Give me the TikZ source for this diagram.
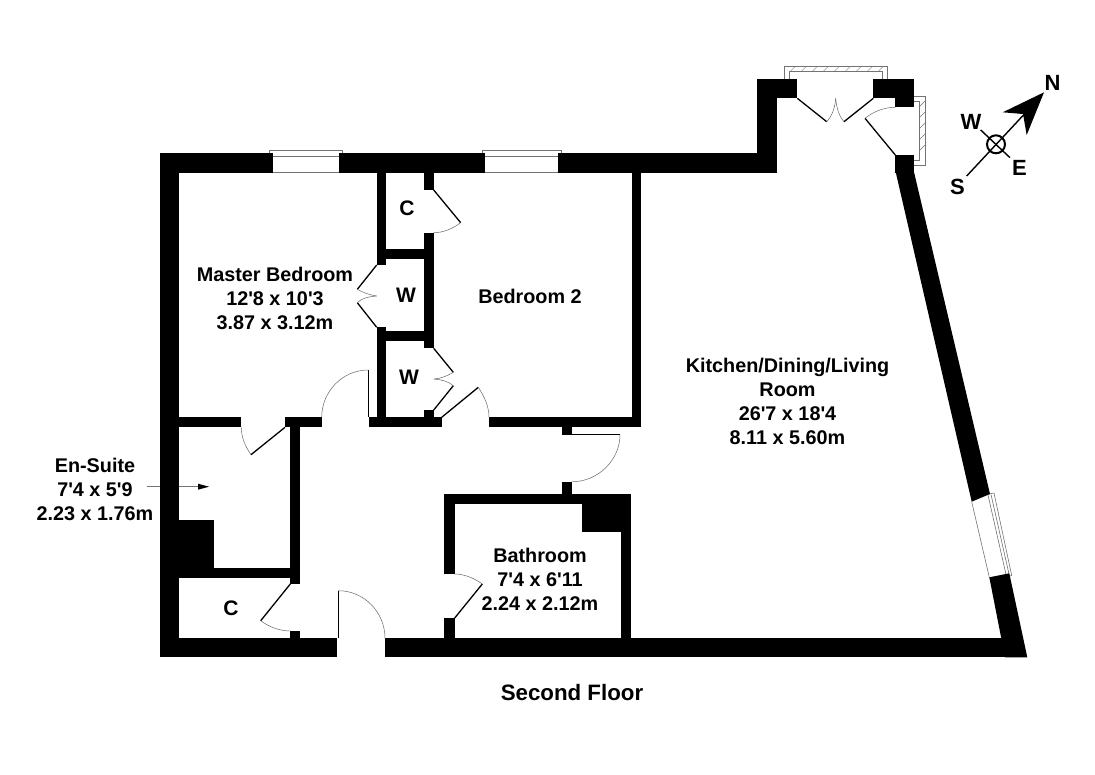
\documentclass[tikz,border=0pt]{standalone}
\usepackage{fontspec}
\newfontfamily\planfont{Liberation Sans}
\tikzset{
  wall/.style={fill=black},
  leaf/.style={draw=black, line width=1.3pt},
  swing/.style={draw=black!60, line width=0.5pt},
  glass/.style={draw=black!55, line width=0.6pt},
  roomlabel/.style={font=\planfont\fontsize{19.8}{24}\selectfont\bfseries, align=center, inner sep=0pt},
  tinylabel/.style={font=\planfont\fontsize{21}{24}\selectfont\bfseries, inner sep=0pt},
  compasslabel/.style={font=\planfont\fontsize{22}{24}\selectfont\bfseries, inner sep=0pt}
}
\begin{document}
\begin{tikzpicture}[x=1pt, y=-1pt]
\useasboundingbox (0,0) rectangle (1095,774);
% windows
\draw[glass] (269.3,153) -- (269.3,150.3) -- (342.3,150.3) -- (342.3,153);
\draw[glass] (273,156) -- (339,156);
\draw[glass] (273,172.7) -- (339,172.7);
\draw[glass] (482.3,153) -- (482.3,150.3) -- (561.7,150.3) -- (561.7,153);
\draw[glass] (485.3,156) -- (558.3,156);
\draw[glass] (485.3,172.7) -- (558.3,172.7);
% bay windows
\draw[glass] (784.3,79.3) -- (784.3,66.7) -- (887,66.7) -- (887,79.3);
\draw[glass] (789.3,79.3) -- (789.3,71.7) -- (882,71.7) -- (882,79.3);
\foreach \hx in {790,801,812,823,834,845,856,867,878}
  \draw[glass, line width=0.4pt] (\hx,71.7) -- ++(5,-5);
\draw[glass] (914,96.7) -- (925,96.7) -- (925,165.7) -- (914,165.7);
\draw[glass] (914,101.7) -- (919,101.7) -- (919,160.7) -- (914,160.7);
\foreach \hy in {107,118,129,140,151}
  \draw[glass, line width=0.4pt] (919,\hy) -- ++(6,-6);
\draw[glass] (971.7,501.7) -- (989.3,577.3);
\draw[glass] (988,495) -- (1006,574.5);
\draw[glass] (991,494.5) -- (1009,574);
\draw[glass] (989,494) -- (994,493) -- (1011.7,575.5) -- (1008,576.5);
% en-suite pointer
\draw[glass] (147,486.7) -- (200,486.7);
\fill (209,486.7) -- (198,483.7) -- (198,489.7) -- cycle;
% outer walls
\fill[wall] (160,153) rectangle (273,172.7);
\fill[wall] (339,153) rectangle (485.3,172.7);
\fill[wall] (558.3,153) rectangle (776.7,172.7);
\fill[wall] (160,153) rectangle (179.4,657.3);
\fill[wall] (160,638.3) rectangle (337.3,657.3);
\fill[wall] (385,638.3) rectangle (1022,657.3);
\fill[wall] (757.3,79.3) rectangle (797.3,98.3);
\fill[wall] (757.3,79.3) rectangle (776.7,172.7);
\fill[wall] (873.3,79.3) rectangle (914,98.3);
\fill[wall] (895.3,98) rectangle (914,107.3);
\fill[wall] (895.3,155) rectangle (914,172.7);
\fill[wall] (895.7,172) -- (914,172) -- (990,494) -- (971.7,501.7) -- cycle;
\fill[wall] (989.3,577.3) -- (1009.3,573.3) -- (1027.3,657.3) -- (1005,657.3) -- cycle;
% closets and bedroom walls
\fill[wall] (376.7,172) rectangle (386.3,265);
\fill[wall] (424,172) rectangle (433.7,190);
\fill[wall] (424,232.7) rectangle (433.7,348.3);
\fill[wall] (376.7,249.3) rectangle (433.7,259.3);
\fill[wall] (376.7,331.3) rectangle (433.7,341);
\fill[wall] (376.7,327.3) rectangle (386.3,417.3);
\fill[wall] (424,410) rectangle (433.7,417.3);
\fill[wall] (369,417.3) rectangle (441.7,427.3);
\fill[wall] (489,417.3) rectangle (640.7,427.3);
\fill[wall] (631.7,172) rectangle (640.7,427.3);
\fill[wall] (562.3,427) rectangle (572.3,434.7);
\fill[wall] (562.3,481.7) rectangle (572.3,494);
% bathroom
\fill[wall] (444,494) rectangle (631,504.3);
\fill[wall] (444,494) rectangle (454.7,574);
\fill[wall] (444,618) rectangle (454.7,638.5);
\fill[wall] (620.7,494) rectangle (631,638.5);
\fill[wall] (582.3,504) rectangle (631,532.3);
% en-suite
\fill[wall] (160,417.3) rectangle (241.3,427.3);
\fill[wall] (285,417.3) rectangle (321.7,427.3);
\fill[wall] (290.3,427) rectangle (300.3,584);
\fill[wall] (160,568) rectangle (300.3,577.7);
\fill[wall] (160,520) rectangle (214,568);
\fill[wall] (290.3,631) rectangle (300.3,638.5);
% doors
\draw[leaf] (368.3,370) -- (368.3,417.3);
\draw[swing] (368.3,370) .. controls (342,370) and (321.7,392) .. (321.7,417.3);
\draw[leaf] (441.7,417.3) -- (478.3,387.3);
\draw[swing] (478.3,387.3) .. controls (484,396) and (489,406) .. (489,417.3);
\draw[leaf] (433.7,190) -- (460.7,222.7);
\draw[swing] (460.7,222.7) .. controls (452,229) and (443,232.7) .. (433.7,232.7);
\draw[leaf] (376.7,265) -- (357.3,289.3);
\draw[leaf] (376.7,327.3) -- (357.3,302.7);
\draw[swing] (357.3,289.3) .. controls (364,293) and (370,295) .. (376.7,296);
\draw[swing] (357.3,302.7) .. controls (362,298) and (369,296.5) .. (376.7,296);
\draw[leaf] (433.7,348.3) -- (453.3,372.3);
\draw[leaf] (433.7,410) -- (453.3,385.7);
\draw[swing] (453.3,372.3) .. controls (447,376) and (441,378.5) .. (434,379);
\draw[swing] (453.3,385.7) .. controls (449,381.5) and (441,379.5) .. (434,379);
\draw[leaf] (572.3,434.7) -- (620,434.7);
\draw[swing] (620,434.7) .. controls (620,460) and (598,481.7) .. (572.3,481.7);
\draw[leaf] (454.7,618) -- (482.3,584);
\draw[swing] (482.3,584) .. controls (474,578) and (464,574) .. (454.7,574);
\draw[leaf] (285,427.3) -- (251,454.7);
\draw[swing] (251,454.7) .. controls (245,446) and (241.3,437) .. (241.3,427.3);
\draw[leaf] (290.3,584) -- (260.7,620.7);
\draw[swing] (260.7,620.7) .. controls (269,627) and (280,631) .. (290.3,631);
\draw[leaf] (338.3,590.7) -- (338.3,638.3);
\draw[swing] (338.3,590.7) .. controls (364,590.7) and (385,612) .. (385,638.3);
\draw[leaf] (797.3,98.3) -- (826.7,121.7);
\draw[leaf] (873.3,98.3) -- (844,121.7);
\draw[swing] (826.7,121.7) .. controls (832,116) and (835,108) .. (835.7,98.3);
\draw[swing] (844,121.7) .. controls (839,116) and (836.5,108) .. (835.7,98.3);
\draw[leaf] (895.3,155) -- (865,118.3);
\draw[swing] (865,118.3) .. controls (874,111) and (885,107.3) .. (895.3,107.3);
% compass
\draw[line width=1.4pt] (966.7,176) -- (1030,108);
\draw[line width=1.4pt] (980.7,130) -- (1010,157.7);
\draw[line width=2pt] (996,144.3) circle (9);
\fill (1044,92.3) -- (1002.7,112.3) -- (1023,114) -- (1026.7,135) -- cycle;
% labels
\node[compasslabel] (north) at (1052.5,82.5) {N};
\node[compasslabel] (west) at (971,122) {W};
\node[compasslabel] (east) at (1019.5,168) {E};
\node[compasslabel] (south) at (957.5,186.5) {S};
\node[roomlabel] (master) at (275,298) {Master Bedroom\\12'8 x 10'3\\3.87 x 3.12m};
\node[roomlabel] (bed2) at (530,296) {Bedroom 2};
\node[tinylabel] (closet1) at (407,208) {C};
\node[tinylabel] (ward1) at (406,295) {W};
\node[tinylabel] (ward2) at (409,377) {W};
\node[roomlabel] (kitchen) at (787.5,401) {Kitchen/Dining/Living\\Room\\26'7 x 18'4\\8.11 x 5.60m};
\node[roomlabel] (ensuite) at (95,489) {En-Suite\\7'4 x 5'9\\2.23 x 1.76m};
\node[roomlabel] (bath) at (540,579) {Bathroom\\7'4 x 6'11\\2.24 x 2.12m};
\node[tinylabel] (closet2) at (231,608) {C};
\node[roomlabel, font=\planfont\fontsize{22.3}{24}\selectfont\bfseries] (floor) at (572,693) {Second Floor};
\end{tikzpicture}
\end{document}
